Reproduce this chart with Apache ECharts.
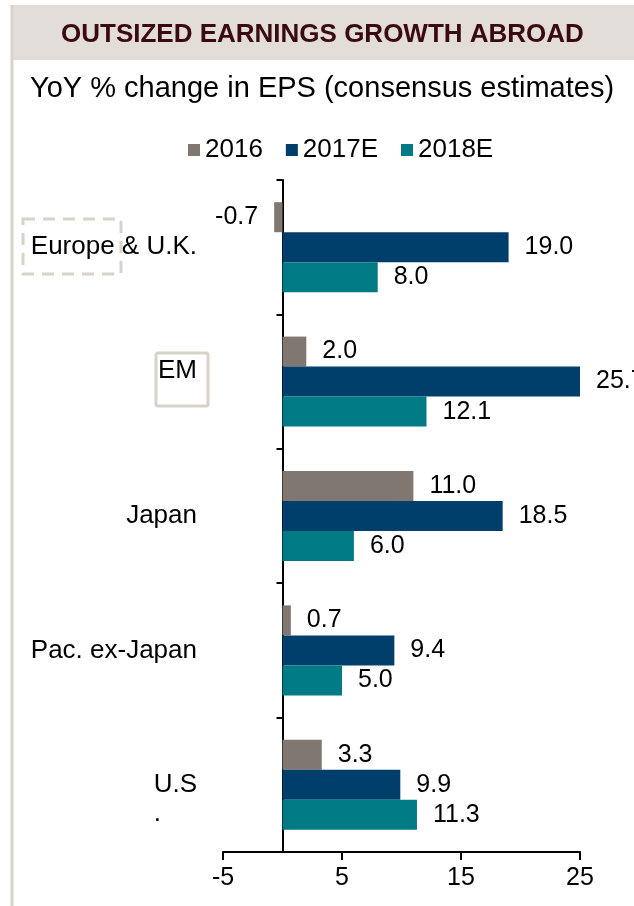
<!DOCTYPE html>
<html>
<head>
<meta charset="utf-8">
<script src="https://cdn.jsdelivr.net/npm/echarts@6/dist/echarts.min.js"></script>
<style>
  html, body { margin: 0; padding: 0; background: #fff; }
  #chart { width: 634px; height: 906px; }
</style>
</head>
<body>
<div id="chart"></div>
<script>
const regions = ['Europe & U.K.', 'EM', 'Japan', 'Pac. ex-Japan', 'U.S.']
const seriesNames = ['2016', '2017E', '2018E']
const eps2016 = [-0.7, 2.0, 11.0, 0.7, 3.3]
const eps2017 = [19.0, 25.7, 18.5, 9.4, 9.9]
const eps2018 = [8.0, 12.1, 6.0, 5.0, 11.3]
const xTicks = [-5, 5, 15, 25]
const COLORS = ['#807870', '#003f6b', '#007b86']
const FONT = '"Liberation Sans", Arial, sans-serif'

const makeSeries = (name, values, color) => {
  return {
    name: name,
    type: 'bar',
    barGap: '0%',
    barCategoryGap: '33%',
    itemStyle: { color: color },
    data: values.map(v => {
      return {
        value: v,
        label: { position: v < 0 ? 'left' : 'right' }
      }
    }),
    label: {
      show: true,
      distance: 16,
      fontFamily: FONT,
      fontSize: 25,
      color: '#000',
      formatter: p => p.value.toFixed(1)
    }
  }
}

// a few labels sit a bit off-centre in the source
const labelFormatter = (value) => {
  if (value === 'EM') return '{t|EM}\n{t| }'
  if (value === 'U.S.') return '{sp| }\n{t|U.S}\n{dot|.}'
  return '{t|' + value + '}'
}

const option = {
  backgroundColor: '#fff',
  animation: false,
  textStyle: { fontFamily: FONT },
  graphic: [
    // header band + frame
    { type: 'rect', shape: { x: 12, y: 5, width: 630, height: 55 }, style: { fill: '#e2ddd8' }, z: -1 },
    { type: 'line', shape: { x1: 12, y1: 5, x2: 12, y2: 906 }, style: { stroke: '#d9d3cc', lineWidth: 3 } },
    { type: 'text', left: 61, top: 22, style: { text: 'OUTSIZED EARNINGS GROWTH ABROAD', font: 'bold 26px ' + FONT, fill: '#3b0a10' } },
    { type: 'text', left: 30, top: 74, style: { text: 'YoY % change in EPS (consensus estimates)', font: '29px ' + FONT, fill: '#000' } },
    // leftover text-box outlines from the source
    { type: 'rect', shape: { x: 23, y: 219, width: 98, height: 55 }, style: { fill: 'none', stroke: '#d8d2ca', lineWidth: 3, lineDash: [12, 8] }, z: 10 },
    { type: 'rect', shape: { x: 156, y: 353, width: 52, height: 53, r: 2 }, style: { fill: 'none', stroke: '#d8d2ca', lineWidth: 3 }, z: 10 }
  ],
  legend: {
    top: 132,
    left: 183,
    icon: 'rect',
    itemWidth: 12,
    itemHeight: 12,
    itemGap: 23,
    textStyle: { fontFamily: FONT, fontSize: 26, color: '#000' },
    data: seriesNames
  },
  grid: { left: 223, right: 54, top: 180, bottom: 54, containLabel: false, outerBoundsMode: 'none' },
  xAxis: {
    type: 'value',
    min: -5,
    max: 25,
    interval: 5,
    splitLine: { show: false },
    axisLine: { show: true, lineStyle: { color: '#000', width: 2 } },
    axisTick: { show: true, length: 8, lineStyle: { color: '#000', width: 2 }, customValues: xTicks },
    axisLabel: { fontFamily: FONT, fontSize: 25, color: '#000', margin: 14, customValues: xTicks }
  },
  yAxis: {
    type: 'category',
    inverse: true,
    data: regions,
    axisLine: { show: true, onZero: true, lineStyle: { color: '#000', width: 2 } },
    axisTick: { show: true, length: 6, lineStyle: { color: '#000', width: 2 } },
    axisLabel: {
      margin: 26,
      align: 'right',
      formatter: labelFormatter,
      rich: {
        t: { fontFamily: FONT, fontSize: 26, color: '#000', lineHeight: 22, align: 'right' },
        sp: { fontFamily: FONT, fontSize: 26, color: '#000', lineHeight: 36 },
        dot: { fontFamily: FONT, fontSize: 26, color: '#000', lineHeight: 36, align: 'left' }
      }
    }
  },
  series: [
    makeSeries(seriesNames[0], eps2016, COLORS[0]),
    makeSeries(seriesNames[1], eps2017, COLORS[1]),
    makeSeries(seriesNames[2], eps2018, COLORS[2])
  ]
}

const myChart = echarts.init(document.getElementById('chart'))
myChart.setOption(option)
</script>
</body>
</html>
